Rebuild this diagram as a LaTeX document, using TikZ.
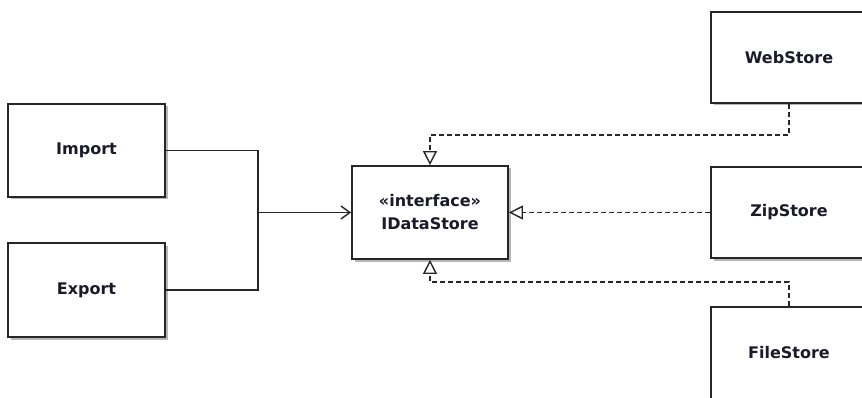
\documentclass[tikz,border=0pt]{standalone}
\usepackage{fontspec}
\setmainfont{DejaVu Sans}
\usetikzlibrary{arrows.meta,shadows}
\definecolor{txt}{HTML}{1A1A28}
\tikzset{
  cls/.style={draw=black!85, line width=1.8pt, fill=white, text=txt,
    font=\bfseries\fontsize{16}{23}\selectfont, align=center, inner sep=0pt,
    drop shadow={shadow xshift=2.5pt, shadow yshift=-2.5pt, fill=black!35, opacity=0.8}},
  conn/.style={draw=black!85, line width=1.6pt},
  agg/.style={conn, -{Straight Barb[length=9pt,width=13pt,line width=1.4pt]}},
  real/.style={conn, dash pattern=on 5pt off 3pt,
    -{Triangle[open,length=14pt,width=14pt,line width=1.4pt]}}
}
\begin{document}
\begin{tikzpicture}[x=1pt,y=-1pt]
\useasboundingbox[fill=white] (0,0) rectangle (862,398);
\clip (0,0) rectangle (862,398);
\node[cls, minimum width=157pt, minimum height=93pt] (imp) at (86.5,150.5) {Import};
\node[cls, minimum width=157pt, minimum height=94pt] (exp) at (86.5,290) {Export};
\node[cls, minimum width=156pt, minimum height=93pt] (ids) at (430,212.5) {«interface»\\IDataStore};
\node[cls, minimum width=156pt, minimum height=91pt] (web) at (789,57.5) {WebStore};
\node[cls, minimum width=156pt, minimum height=91pt] (zip) at (789,212.5) {ZipStore};
\node[cls, minimum width=156pt, minimum height=92pt] (file) at (789,353) {FileStore};
\coordinate (j) at (258,212.5);
\draw[conn] (imp.east) -| (j);
\draw[conn] (exp.east) -| (j);
\draw[agg] (j) -- (ids.west);
\draw[real] (web.south) -- ++(0,31) -| (ids.north);
\draw[real] (zip.west) -- (ids.east);
\draw[real] (file.north) -- ++(0,-24) -| (ids.south);
\end{tikzpicture}
\end{document}
